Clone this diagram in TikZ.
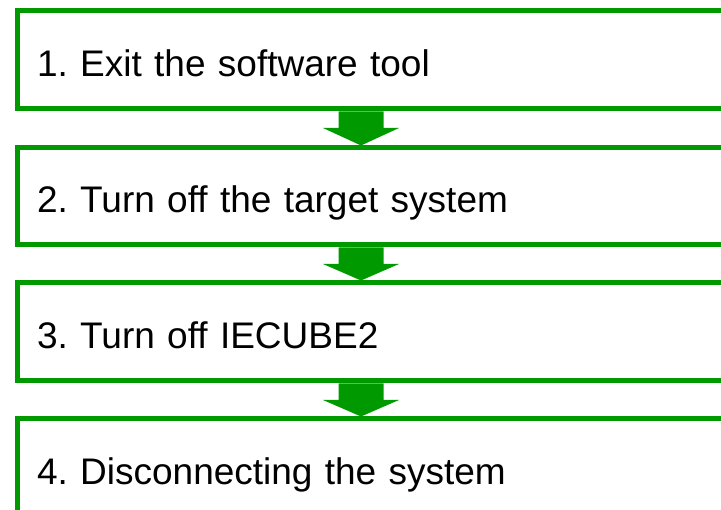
\documentclass[tikz,border=0pt]{standalone}
\usepackage{fontspec}
\setmainfont{Liberation Sans}
\usepackage{tikz}
\usetikzlibrary{positioning,calc}
\definecolor{flowgreen}{RGB}{0,153,0}
\frenchspacing

\begin{document}
\begin{tikzpicture}[
    x=1pt, y=-1pt,
    stepbox/.style={rectangle, draw=flowgreen, line width=5pt, anchor=north west,
                minimum width=760pt, minimum height=98pt, inner xsep=20pt,
                text width=720pt, align=left, text height=33pt, text depth=0pt,
                font=\fontsize{37}{42}\selectfont},
    flowarr/.style={fill=flowgreen}
]
    \useasboundingbox (0,0) rectangle (721,510);

    \node[stepbox] (b1) at (14.5,8.5) {1. Exit the software tool};
    \node[stepbox, minimum height=97pt] (b2) at (14.5,145.5) {2. Turn off the target system};
    \node[stepbox] (b3) at (14.5,280.5) {3. Turn off IECUBE2};
    \node[stepbox] (b4) at (14.5,416.5) {4. Disconnecting the system};

    % arrows between the steps
    \foreach \a/\b in {b1/b2, b2/b3, b3/b4}
        \fill[flowarr] (338.5,0 |- \a.south) -- (383.5,0 |- \a.south)
            -- ($(383.5,0 |- \a.south)+(0,16.5)$) -- ($(399,0 |- \a.south)+(0,16.5)$)
            -- (361,0 |- \b.north)
            -- ($(323,0 |- \a.south)+(0,16.5)$) -- ($(338.5,0 |- \a.south)+(0,16.5)$)
            -- cycle;
\end{tikzpicture}
\end{document}
